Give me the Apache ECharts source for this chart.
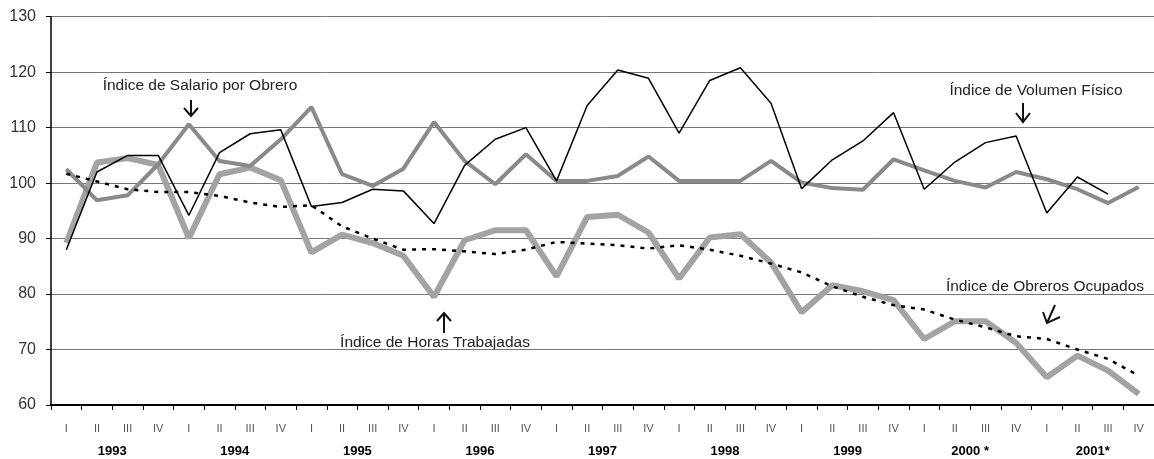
<!DOCTYPE html>
<html>
<head>
<meta charset="utf-8">
<script src="https://cdn.jsdelivr.net/npm/echarts@6/dist/echarts.min.js"></script>
<style>
  html, body { margin: 0; padding: 0; background: #fff; }
  #chart { width: 1154px; height: 459px; }
</style>
</head>
<body>
<div id="chart"></div>
<script>
  // trimestres 1993 - 2001
  var quarters = []
  var years = ['1993', '1994', '1995', '1996', '1997', '1998', '1999', '2000 *', '2001*']
  for (var y = 0; y < years.length; y++) {
    quarters.push('I', 'II', 'III', 'IV')
  }

  var volumenFisico = [88.0, 102.0, 105.0, 105.0, 94.2, 105.5, 108.9, 109.6, 95.8, 96.5, 98.9, 98.6,
    92.7, 103.2, 107.9, 110.0, 100.4, 114.0, 120.4, 118.9, 109.0, 118.5, 120.8, 114.4,
    99.0, 104.2, 107.6, 112.7, 98.9, 103.8, 107.3, 108.5, 94.6, 101.1, 98.0, null]

  var salarioObrero = [102.5, 96.9, 97.8, 103.4, 110.6, 104.0, 103.1, 107.9, 113.7, 101.6, 99.5, 102.6,
    111.0, 104.0, 99.8, 105.2, 100.4, 100.4, 101.3, 104.8, 100.4, 100.4, 100.4, 104.0,
    100.1, 99.1, 98.8, 104.3, 102.3, 100.4, 99.2, 102.0, 100.7, 98.9, 96.4, 99.3]

  var horasTrabajadas = [89.2, 103.7, 104.5, 103.3, 90.1, 101.6, 102.8, 100.5, 87.5, 90.7, 89.2, 86.9,
    79.5, 89.7, 91.5, 91.5, 83.2, 93.9, 94.3, 91.1, 82.8, 90.2, 90.8, 85.7,
    76.7, 81.6, 80.5, 78.9, 71.9, 75.1, 75.1, 71.2, 65.0, 68.9, 66.2, 62.0]

  var obrerosOcupados = [101.7, 100.3, 98.9, 98.4, 98.4, 97.7, 96.5, 95.7, 96.0, 92.2, 90.0, 88.0,
    88.1, 87.7, 87.2, 88.0, 89.4, 89.1, 88.8, 88.2, 88.8, 88.0, 86.9, 85.5,
    83.9, 81.4, 79.5, 78.0, 77.2, 75.4, 74.0, 72.4, 71.9, 70.0, 68.3, 65.3]

  var myChart = echarts.init(document.getElementById('chart'))
  var font = '"Liberation Sans", Arial, sans-serif'

  function arrow(points) {
    return {
      type: 'polyline',
      shape: { points: points },
      style: { stroke: '#111', lineWidth: 2, fill: null }
    }
  }
  function note(text, x, y) {
    return {
      type: 'text',
      x: x,
      y: y,
      style: { text: text, font: '15.5px ' + font, fill: '#222', align: 'center', verticalAlign: 'middle' }
    }
  }

  var option = {
    animation: false,
    backgroundColor: '#fff',
    grid: { left: 51, right: -9.4, top: 16.7, bottom: 54, containLabel: false },
    xAxis: [{
      type: 'category',
      data: quarters,
      boundaryGap: true,
      axisLine: { lineStyle: { color: '#000', width: 2 } },
      axisTick: { show: true, length: 5, lineStyle: { color: '#000' } },
      axisLabel: { color: '#555', fontSize: 11, fontFamily: font, margin: 18, interval: 0 }
    }, {
      type: 'category',
      data: years,
      position: 'bottom',
      offset: 32,
      boundaryGap: true,
      axisLine: { show: false },
      axisTick: { show: false },
      axisLabel: { color: '#000', fontSize: 13, fontWeight: 'bold', fontFamily: font, margin: 8, interval: 0 }
    }],
    yAxis: {
      type: 'value',
      min: 60,
      max: 130,
      interval: 10,
      axisLine: { show: true, lineStyle: { color: '#000', width: 1.5 } },
      axisTick: { show: true, length: 5, lineStyle: { color: '#000' } },
      axisLabel: { color: '#333', fontSize: 16, fontFamily: font, margin: 15 },
      splitLine: { show: true, lineStyle: { color: '#777', width: 1 } }
    },
    series: [{
      name: 'Índice de Horas Trabajadas',
      type: 'line',
      data: horasTrabajadas,
      symbol: 'none',
      lineStyle: { color: '#a3a3a3', width: 6 },
      z: 2
    }, {
      name: 'Índice de Salario por Obrero',
      type: 'line',
      data: salarioObrero,
      symbol: 'none',
      lineStyle: { color: '#8a8a8a', width: 4 },
      z: 3
    }, {
      name: 'Índice de Volumen Físico',
      type: 'line',
      data: volumenFisico,
      symbol: 'none',
      lineStyle: { color: '#000', width: 1.5 },
      z: 4
    }, {
      name: 'Índice de Obreros Ocupados',
      type: 'line',
      data: obrerosOcupados,
      symbol: 'none',
      lineStyle: { color: '#000', width: 2.5, type: [4, 6] },
      z: 5
    }],
    graphic: [
      note('Índice de Salario por Obrero', 200, 86),
      arrow([[191, 100], [191, 116]]),
      arrow([[184, 108], [191, 116], [198, 108]]),
      note('Índice de Volumen Físico', 1036, 91),
      arrow([[1023, 103], [1023, 122]]),
      arrow([[1016, 113], [1023, 122], [1030, 113]]),
      note('Índice de Horas Trabajadas', 435, 343),
      arrow([[444, 313], [444, 333]]),
      arrow([[437, 321], [444, 313], [451, 321]]),
      note('Índice de Obreros Ocupados', 1045, 287),
      arrow([[1055, 305], [1047, 323]]),
      arrow([[1043, 312], [1047, 323], [1060, 317]])
    ]
  }
  myChart.setOption(option)
</script>
</body>
</html>
